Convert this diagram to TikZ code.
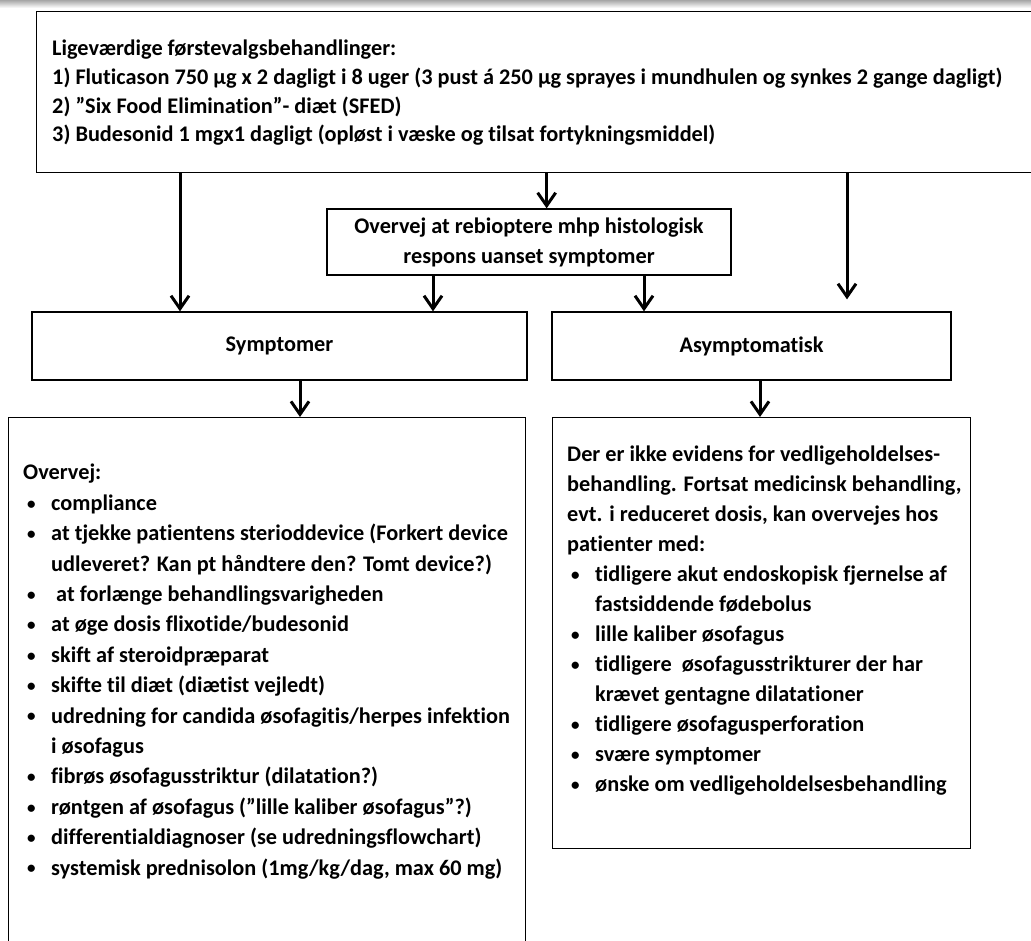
\documentclass[tikz,border=0pt]{standalone}
\usepackage{fontspec}
\setmainfont{Carlito}[Ligatures=NoCommon]
\usetikzlibrary{arrows.meta}

\newcommand{\lbul}{\makebox[28pt][l]{\hspace{4pt}\raisebox{1.2pt}{\fontsize{17}{17}\selectfont\textbullet}}}
\newcommand{\lind}{\hspace*{28pt}}

\begin{document}
\begin{tikzpicture}[
  x=1pt, y=-1pt,
  block/.style={rectangle, draw, line width=1.3pt, inner sep=0pt},
  txt/.style={font=\fontsize{22.3}{30}\selectfont\bfseries, align=#1, inner sep=0pt},
  txt/.default={center},
  arrow/.style={-{Straight Barb[length=13pt,width=18pt]}, line width=3pt}
]
  \useasboundingbox (0,0) rectangle (1031,940);
  \shade[top color=gray!70, bottom color=white] (0,0) rectangle (1031,8);

  % top box
  \node[block, anchor=north west, minimum width=1020pt, minimum height=161pt] (plan) at (36,11) {};
  \node[txt=left, anchor=north west, font=\fontsize{22.3}{28.7}\selectfont\bfseries] (plantxt) at (52,40) {%
    Ligeværdige førstevalgsbehandlinger:\\
    1) Fluticason 750 µg x 2 dagligt i 8 uger (3 pust á 250 µg sprayes i mundhulen og synkes 2 gange dagligt)\\
    2) ”Six Food Elimination”- diæt (SFED)\\
    3) Budesonid 1 mgx1 dagligt (opløst i væske og tilsat fortykningsmiddel)};

  % middle row
  \node[block, txt, minimum width=404pt, minimum height=66pt] (biopsy) at (529,242)
    {Overvej at rebioptere mhp histologisk\\respons uanset symptomer};
  \node[block, txt, minimum width=495pt, minimum height=68pt] (sym) at (279.5,346) {Symptomer};
  \node[block, txt, minimum width=399pt, minimum height=68pt] (asym) at (751.5,346) {Asymptomatisk};

  % bottom boxes
  \node[block, anchor=north west, minimum width=517pt, minimum height=560pt] (symbox) at (8,417) {};
  \node[block, anchor=north west, minimum width=418pt, minimum height=431pt] (asymbox) at (552,417) {};

  \node[txt=left, anchor=north west, font=\fontsize{22.3}{30.4}\selectfont\bfseries] (symlist) at (23,464) {%
    Overvej:\\
    \lbul compliance\\
    \lbul at tjekke patientens sterioddevice (Forkert device\\
    \lind udleveret? Kan pt håndtere den? Tomt device?)\\
    \lbul\hspace{5pt}at forlænge behandlingsvarigheden\\
    \lbul at øge dosis flixotide/budesonid\\
    \lbul skift af steroidpræparat\\
    \lbul skifte til diæt (diætist vejledt)\\
    \lbul udredning for candida øsofagitis/herpes infektion\\
    \lind i øsofagus\\
    \lbul fibrøs øsofagusstriktur (dilatation?)\\
    \lbul røntgen af øsofagus (”lille kaliber øsofagus”?)\\
    \lbul differentialdiagnoser (se udredningsflowchart)\\
    \lbul systemisk prednisolon (1mg/kg/dag, max 60 mg)};

  \node[txt=left, anchor=north west] (asymlist) at (567,446) {%
    Der er ikke evidens for vedligeholdelses-\\
    behandling. Fortsat medicinsk behandling,\\
    evt. i reduceret dosis, kan overvejes hos\\
    patienter med:\\
    \lbul tidligere akut endoskopisk fjernelse af\\
    \lind fastsiddende fødebolus\\
    \lbul lille kaliber øsofagus\\
    \lbul tidligere\hspace{5pt} øsofagusstrikturer der har\\
    \lind krævet gentagne dilatationer\\
    \lbul tidligere øsofagusperforation\\
    \lbul svære symptomer\\
    \lbul ønske om vedligeholdelsesbehandling};

  \coordinate (asymtop) at ([yshift=12pt]asym.north);

  \draw[arrow] (plan.south -| 180,0) -- (sym.north -| 180,0);
  \draw[arrow] (plan.south) -- (biopsy.north -| plan.south);
  \draw[arrow] (plan.south -| 847,0) -- (asymtop -| 847,0);
  \draw[arrow] (biopsy.south -| 433,0) -- (sym.north -| 433,0);
  \draw[arrow] (biopsy.south -| 644,0) -- (asym.north -| 644,0);
  \draw[arrow] (sym.south -| 300,0) -- (symbox.north -| 300,0);
  \draw[arrow] (asym.south -| 760,0) -- (asymbox.north -| 760,0);
\end{tikzpicture}
\end{document}
